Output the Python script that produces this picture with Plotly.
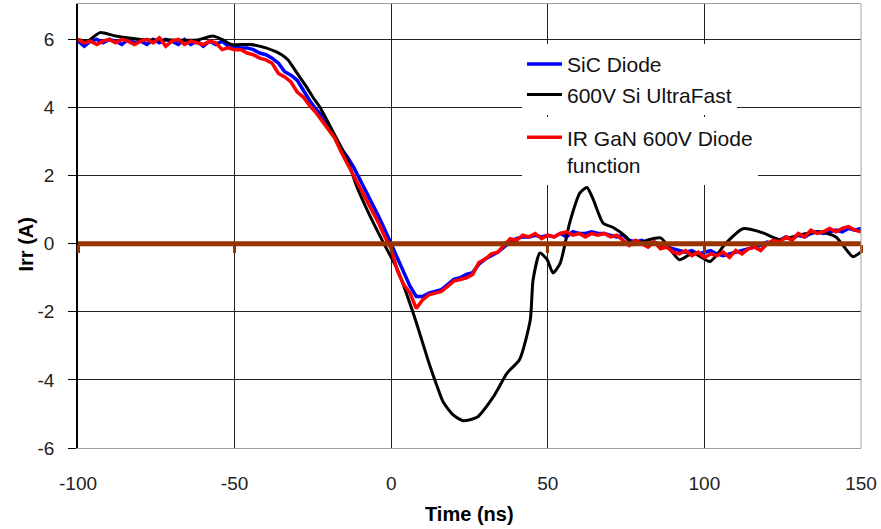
import plotly.graph_objects as go

# ---------------- data ----------------
t_grid = [-100, -98, -96, -94, -92, -90, -88, -86, -84, -82, -80, -78, -76, -74, -72, -70,
          -68, -66, -64, -62, -60, -58, -56, -54, -52, -50, -48, -46, -44, -42, -40, -38,
          -36, -34, -32, -30, -28, -26, -24, -22, -20, -18, -16, -14, -12, -10, -8, -6,
          -4, -2, 0, 2, 4, 6, 8, 10, 12, 14, 16, 18, 20, 22, 24, 26,
          28, 30, 32, 34, 36, 38, 40, 42, 44, 46, 48, 50, 52, 54, 56, 58,
          60, 62, 64, 66, 68, 70, 72, 74, 76, 78, 80, 82, 84, 86, 88, 90,
          92, 94, 96, 98, 100, 102, 104, 106, 108, 110, 112, 114, 116, 118, 120, 122,
          124, 126, 128, 130, 132, 134, 136, 138, 140, 142, 144, 146, 148, 150]

sic_diode = [5.95, 5.80, 5.95, 6.00, 5.90, 6.00, 5.95, 5.85, 6.00, 5.90, 5.95, 5.85, 6.00, 5.90, 6.00, 5.95,
             5.85, 6.00, 5.85, 5.95, 5.80, 5.95, 5.85, 5.95, 5.80, 5.80, 5.75, 5.75, 5.70, 5.60, 5.55, 5.45,
             5.30, 5.05, 4.95, 4.80, 4.50, 4.20, 3.95, 3.75, 3.40, 3.15, 2.80, 2.55, 2.25, 1.90, 1.55, 1.20,
             0.80, 0.40, 0.00, -0.40, -0.80, -1.25, -1.55, -1.55, -1.45, -1.40, -1.35, -1.20, -1.05, -1.00, -0.90, -0.85,
             -0.60, -0.45, -0.35, -0.25, -0.10, 0.05, 0.15, 0.20, 0.20, 0.25, 0.20, 0.25, 0.20, 0.30, 0.20, 0.35,
             0.30, 0.30, 0.35, 0.30, 0.30, 0.25, 0.20, 0.25, 0.10, 0.05, 0.10, 0.00, 0.05, -0.05, -0.10, -0.15,
             -0.20, -0.25, -0.20, -0.30, -0.25, -0.20, -0.30, -0.35, -0.30, -0.25, -0.20, -0.15, -0.10, -0.05, 0.05, 0.00,
             0.10, 0.20, 0.15, 0.25, 0.20, 0.30, 0.35, 0.30, 0.35, 0.40, 0.35, 0.45, 0.40, 0.45]

gan_diode = [6.00, 5.90, 5.95, 5.85, 5.95, 6.00, 5.90, 6.00, 5.95, 5.85, 5.95, 6.00, 5.90, 6.05, 5.80, 5.95,
             6.00, 5.85, 5.95, 5.90, 5.85, 5.95, 5.90, 5.70, 5.75, 5.70, 5.70, 5.60, 5.55, 5.45, 5.40, 5.30,
             5.00, 4.90, 4.75, 4.45, 4.30, 4.05, 3.85, 3.60, 3.35, 3.10, 2.70, 2.35, 2.05, 1.70, 1.35, 0.95,
             0.60, 0.20, -0.15, -0.80, -1.20, -1.45, -1.90, -1.65, -1.50, -1.45, -1.40, -1.25, -1.10, -1.05, -1.00, -0.90,
             -0.55, -0.45, -0.30, -0.25, -0.05, 0.15, 0.10, 0.25, 0.20, 0.30, 0.15, 0.25, 0.20, 0.30, 0.35, 0.25,
             0.30, 0.20, 0.30, 0.25, 0.30, 0.20, 0.25, 0.10, -0.05, 0.10, 0.00, -0.10, 0.05, -0.15, -0.10, -0.25,
             -0.30, -0.20, -0.35, -0.25, -0.40, -0.30, -0.35, -0.25, -0.40, -0.20, -0.30, -0.15, -0.10, -0.20, 0.00, 0.10,
             0.05, 0.20, 0.10, 0.30, 0.20, 0.40, 0.30, 0.35, 0.45, 0.35, 0.45, 0.50, 0.40, 0.35]

t_si = [-100, -97, -93, -88, -80, -70, -62, -57, -54, -51, -45, -40, -35, -33, -30, -27,
        -25, -22.7, -19.5, -14, -11, -6.7, -2.5, 2, 7, 12.4, 14.7, 16.6, 19.8, 23, 27.4, 32.6,
        37, 41, 44.4, 45.3, 47.5, 49.8, 51.7, 54, 57, 60.3, 62.5, 64.5, 67.7, 71, 75, 77,
        80, 86, 92, 96.4, 101.8, 107, 112.3, 118.7, 124, 130.5, 137, 142, 147.4, 150]
si_ultrafast = [6.00, 5.95, 6.20, 6.10, 6.00, 5.98, 5.98, 6.10, 6.00, 5.85, 5.85, 5.75, 5.55, 5.40, 5.00, 4.60,
                4.30, 4.00, 3.45, 2.47, 1.68, 0.80, 0.03, -0.76, -2.03, -3.60, -4.20, -4.65, -5.03, -5.20, -5.10, -4.50,
                -3.80, -3.40, -2.24, -1.06, -0.27, -0.47, -0.86, -0.56, 0.62, 1.50, 1.65, 1.30, 0.60, 0.47, 0.20, -0.03,
                0.05, 0.17, -0.47, -0.27, -0.52, 0.03, 0.44, 0.32, 0.12, 0.26, 0.35, 0.20, -0.38, -0.24]

t_zero = [-100, 150]
zero_line = [0, 0]

x_ticks = [-100, -50, 0, 50, 100, 150]
x_labels = ["-100", "-50", "0", "50", "100", "150"]
y_ticks = [-6, -4, -2, 0, 2, 4, 6]
y_labels = ["-6", "-4", "-2", "0", "2", "4", "6"]

names = ["SiC Diode", "600V Si UltraFast", "IR GaN 600V Diode<br>function"]

FONT = "Liberation Sans, Arial, sans-serif"

fig = go.Figure()
fig.add_trace(go.Scatter(x=t_grid, y=sic_diode, mode="lines", name=names[0],
                         line=dict(color="#0000FF", width=3.5)))
fig.add_trace(go.Scatter(x=t_si, y=si_ultrafast, mode="lines", name=names[1],
                         line=dict(color="#000000", width=3, shape="spline", smoothing=0.6)))
fig.add_trace(go.Scatter(x=t_zero, y=zero_line, mode="lines", showlegend=False, xaxis="x2",
                         line=dict(color="#993300", width=5)))
fig.add_trace(go.Scatter(x=t_grid, y=gan_diode, mode="lines", name=names[2], legend="legend2",
                         line=dict(color="#FF0000", width=3.5)))

legend_common = dict(xanchor="left", yanchor="top", bgcolor="white", borderwidth=0,
                     font=dict(family=FONT, size=21, color="#111111"),
                     valign="top", itemwidth=35, tracegroupgap=0)

fig.update_layout(
    width=881, height=529,
    margin=dict(l=78, r=20, t=4, b=81),
    paper_bgcolor="white", plot_bgcolor="white",
    font=dict(family=FONT, size=18, color="#222222"),
    showlegend=True,
    legend=dict(x=0.567, y=0.91, **legend_common),
    legend2=dict(x=0.567, y=0.745, **legend_common),
    xaxis=dict(range=[-100, 150], tickvals=x_ticks, ticktext=x_labels, ticks="", showgrid=True,
               gridcolor="#222222", gridwidth=1, zeroline=False,
               showline=True, linecolor="#A0A0A0", linewidth=1, mirror=True,
               ticklabelstandoff=18, tickfont=dict(size=19)),
    xaxis2=dict(range=[-100, 150], overlaying="x", anchor="free", position=6 / 13.04,
                tickvals=x_ticks, ticks="outside", ticklen=8, tickwidth=3,
                tickcolor="#993300", showticklabels=False, showgrid=False,
                zeroline=False, showline=False),
    yaxis=dict(range=[-6, 7.04], tickvals=y_ticks, ticktext=y_labels, ticks="outside", ticklen=8,
               tickcolor="#000000", tickwidth=1, showgrid=True, gridcolor="#222222",
               gridwidth=1, zeroline=False, showline=True, linecolor="#000000",
               linewidth=1.5, mirror=False, ticklabelstandoff=10, tickfont=dict(size=19)),
    shapes=[dict(type="line", xref="paper", yref="paper", x0=1, x1=1, y0=0, y1=1,
                 line=dict(color="#A0A0A0", width=1))],
    annotations=[
        dict(text="<b>Time (ns)</b>", xref="paper", yref="paper", x=0.5, y=-0.149,
             xanchor="center", yanchor="middle", showarrow=False,
             font=dict(family=FONT, size=20, color="#000000")),
        dict(text="<b>Irr (A)</b>", xref="paper", yref="paper", x=-0.066, y=0.459,
             xanchor="center", yanchor="middle", showarrow=False, textangle=-90,
             font=dict(family=FONT, size=20, color="#000000")),
    ],
)

fig.write_html("out.html")
